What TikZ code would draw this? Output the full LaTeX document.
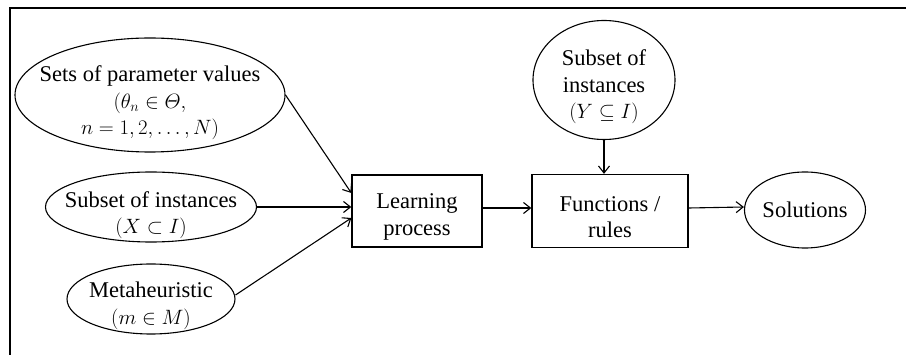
\documentclass[tikz,border=0pt]{standalone}
\usepackage{amsmath}
\usepackage{amssymb}
\usepackage{fontspec}
\setmainfont{Liberation Serif}
\usetikzlibrary{shapes.geometric,arrows.meta}
\begin{document}
\begin{tikzpicture}[x=1pt,y=-1pt,
  every node/.style={font=\fontsize{22.5}{26.5}\selectfont, align=center, inner sep=0pt},
  oval/.style={draw, ellipse, line width=1.1pt},
  boxnode/.style={draw, rectangle, line width=1.3pt},
  conn/.style={line width=1.1pt, -{Straight Barb[length=7pt,width=11pt,line width=1.1pt]}}]
\useasboundingbox (0,0) rectangle (906,355);
\draw[line width=1.5pt] (10,355) -- (10,8) -- (906,8);
\node[oval, minimum width=270pt, minimum height=114pt] (e1) at (150,95) {};
\node (t1) at ([yshift=-8pt]e1.center) {Sets of parameter values\\$(\theta_n\in\varTheta,$\\$n=1,2,\ldots,N)$};
\node[oval, minimum width=211pt, minimum height=70pt] (e2) at (151,207) {};
\node (t2) at ([yshift=-8pt]e2.center) {Subset of instances\\$(X\subset I)$};
\node[oval, minimum width=168pt, minimum height=70pt] (e3) at (151,299) {};
\node (t3) at ([yshift=-7pt]e3.center) {Metaheuristic\\$(m\in M)$};
\node[boxnode, minimum width=130pt, minimum height=72pt] (lp) at (417,211) {};
\node (tl) at ([yshift=-6pt]lp.center) {Learning\\process};
\node[boxnode, minimum width=156pt, minimum height=73pt] (fr) at (610,211) {};
\node (tf) at ([yshift=-6pt]fr.center) {Functions /\\rules};
\node[oval, minimum width=142pt, minimum height=119pt] (ey) at (604,80) {};
\node (ty) at ([yshift=-7pt]ey.center) {Subset of\\instances\\$(Y\subseteq I)$};
\node[oval, minimum width=121pt, minimum height=76pt] (so) at (805,210) {};
\node (ts) at (so) {Solutions};
\coordinate (a1) at ([yshift=18pt]lp.west);
\coordinate (a2) at ([yshift=4pt]lp.west);
\coordinate (a3) at ([yshift=-7pt]lp.west);
\draw[conn] (e1.east) -- (a1);
\draw[conn] (e2.east) -- (a2);
\draw[conn] ([yshift=4pt]e3.east) -- (a3);
\draw[conn] ([yshift=3pt]lp.east) -- ([yshift=3pt]fr.west);
\draw[conn] (ey.south) -- (ey.south |- fr.north);
\draw[conn] ([yshift=3pt]fr.east) -- ([yshift=3pt]so.west);
\end{tikzpicture}
\end{document}
